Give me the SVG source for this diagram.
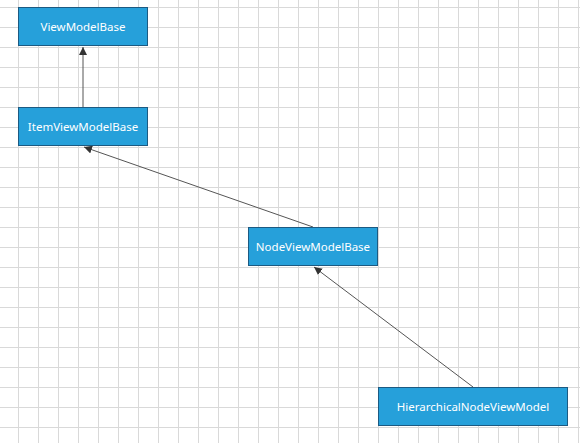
<svg xmlns="http://www.w3.org/2000/svg" width="580" height="443" viewBox="0 0 580 443">
<defs>
<style>
.grid line{stroke:#d9d9d9;stroke-width:1}
.node rect{fill:#26a0da;stroke:#1c5a82;stroke-width:1}
.node text{fill:#ffffff;font-family:"Noto Sans","Open Sans",sans-serif;font-size:11.5px;text-anchor:middle}
.edge{stroke:#555555;stroke-width:1;fill:none;marker-end:url(#arr)}
</style>
<marker id="arr" viewBox="0 0 10 10" refX="10" refY="5" markerWidth="8" markerHeight="8" markerUnits="userSpaceOnUse" orient="auto">
<path d="M0,0 L10,5 L0,10 z" fill="#333333"/>
</marker>
</defs>
<rect width="580" height="443" fill="#ffffff"/>
<g class="grid">
<line x1="18.5" y1="0" x2="18.5" y2="443"/><line x1="38.5" y1="0" x2="38.5" y2="443"/><line x1="58.5" y1="0" x2="58.5" y2="443"/><line x1="78.5" y1="0" x2="78.5" y2="443"/><line x1="98.5" y1="0" x2="98.5" y2="443"/><line x1="118.5" y1="0" x2="118.5" y2="443"/><line x1="138.5" y1="0" x2="138.5" y2="443"/><line x1="158.5" y1="0" x2="158.5" y2="443"/><line x1="178.5" y1="0" x2="178.5" y2="443"/><line x1="198.5" y1="0" x2="198.5" y2="443"/><line x1="218.5" y1="0" x2="218.5" y2="443"/><line x1="238.5" y1="0" x2="238.5" y2="443"/><line x1="258.5" y1="0" x2="258.5" y2="443"/><line x1="278.5" y1="0" x2="278.5" y2="443"/><line x1="298.5" y1="0" x2="298.5" y2="443"/><line x1="318.5" y1="0" x2="318.5" y2="443"/><line x1="338.5" y1="0" x2="338.5" y2="443"/><line x1="358.5" y1="0" x2="358.5" y2="443"/><line x1="378.5" y1="0" x2="378.5" y2="443"/><line x1="398.5" y1="0" x2="398.5" y2="443"/><line x1="418.5" y1="0" x2="418.5" y2="443"/><line x1="438.5" y1="0" x2="438.5" y2="443"/><line x1="458.5" y1="0" x2="458.5" y2="443"/><line x1="478.5" y1="0" x2="478.5" y2="443"/><line x1="498.5" y1="0" x2="498.5" y2="443"/><line x1="518.5" y1="0" x2="518.5" y2="443"/><line x1="538.5" y1="0" x2="538.5" y2="443"/><line x1="558.5" y1="0" x2="558.5" y2="443"/><line x1="578.5" y1="0" x2="578.5" y2="443"/>
<line x1="0" y1="7.5" x2="580" y2="7.5"/><line x1="0" y1="27.5" x2="580" y2="27.5"/><line x1="0" y1="47.5" x2="580" y2="47.5"/><line x1="0" y1="67.5" x2="580" y2="67.5"/><line x1="0" y1="87.5" x2="580" y2="87.5"/><line x1="0" y1="107.5" x2="580" y2="107.5"/><line x1="0" y1="127.5" x2="580" y2="127.5"/><line x1="0" y1="147.5" x2="580" y2="147.5"/><line x1="0" y1="167.5" x2="580" y2="167.5"/><line x1="0" y1="187.5" x2="580" y2="187.5"/><line x1="0" y1="207.5" x2="580" y2="207.5"/><line x1="0" y1="227.5" x2="580" y2="227.5"/><line x1="0" y1="247.5" x2="580" y2="247.5"/><line x1="0" y1="267.5" x2="580" y2="267.5"/><line x1="0" y1="287.5" x2="580" y2="287.5"/><line x1="0" y1="307.5" x2="580" y2="307.5"/><line x1="0" y1="327.5" x2="580" y2="327.5"/><line x1="0" y1="347.5" x2="580" y2="347.5"/><line x1="0" y1="367.5" x2="580" y2="367.5"/><line x1="0" y1="387.5" x2="580" y2="387.5"/><line x1="0" y1="407.5" x2="580" y2="407.5"/><line x1="0" y1="427.5" x2="580" y2="427.5"/>
</g>
<g id="connectors">
<line class="edge" x1="83" y1="107" x2="83" y2="47"/>
<line class="edge" x1="313" y1="227" x2="84" y2="147"/>
<line class="edge" x1="473" y1="387" x2="314" y2="267"/>
</g>
<g id="ViewModelBase" class="node">
<rect x="18.5" y="7.5" width="129" height="38"/>
<text x="83" y="30.5">ViewModelBase</text>
</g>
<g id="ItemViewModelBase" class="node">
<rect x="18.5" y="107.5" width="129" height="38"/>
<text x="83" y="130.5">ItemViewModelBase</text>
</g>
<g id="NodeViewModelBase" class="node">
<rect x="248.5" y="227.5" width="129" height="38"/>
<text x="313" y="250.5">NodeViewModelBase</text>
</g>
<g id="HierarchicalNodeViewModel" class="node">
<rect x="378.5" y="387.5" width="189" height="38"/>
<text x="473" y="410.5">HierarchicalNodeViewModel</text>
</g>
</svg>
